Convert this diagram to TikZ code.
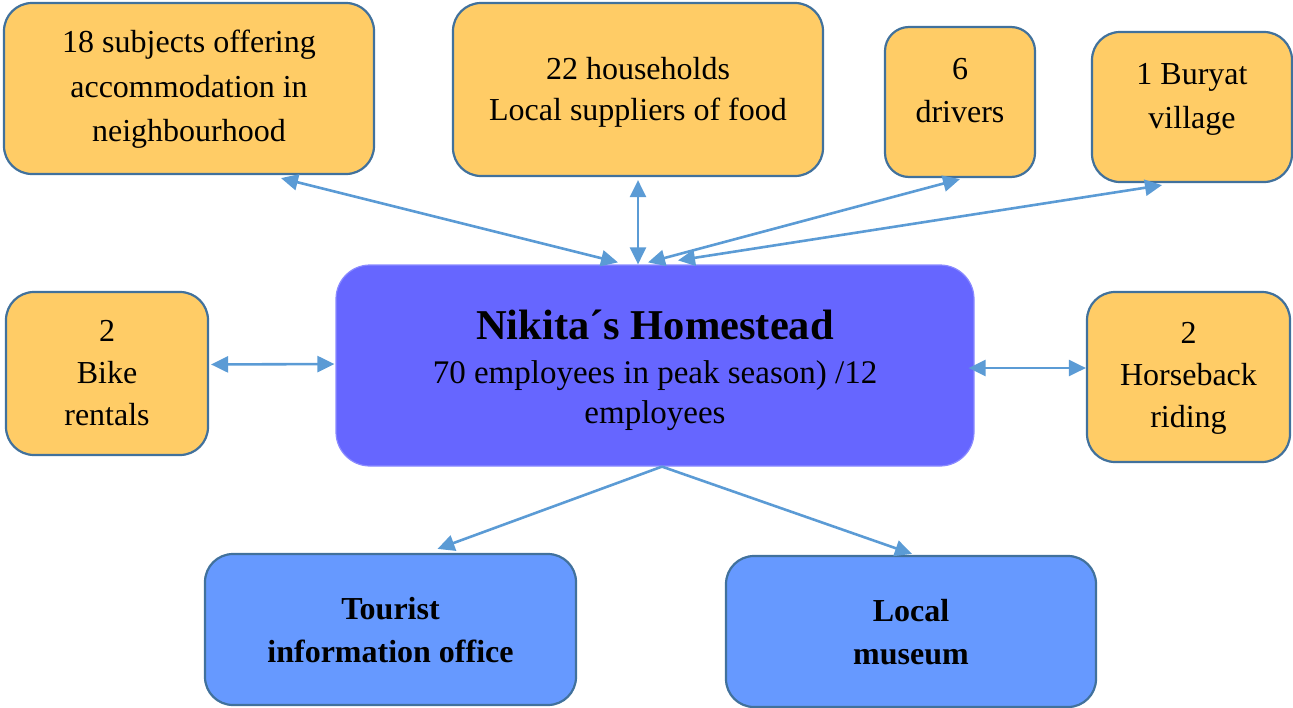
\documentclass[tikz,border=0pt]{standalone}
\usepackage{fontspec}
\setmainfont{Liberation Serif}
\usetikzlibrary{arrows.meta}
\definecolor{oFill}{HTML}{FFCC66}
\definecolor{bEdge}{HTML}{41719C}
\definecolor{cFill}{HTML}{6666FF}
\definecolor{cEdge}{HTML}{8A8AFF}
\definecolor{lFill}{HTML}{6699FF}
\definecolor{arr}{HTML}{5B9BD5}
\tikzset{
  x=1pt, y=1pt,
  obox/.style={draw=bEdge, fill=oFill, line width=2.2pt, rounded corners=28pt, inner sep=0pt},
  lbox/.style={draw=bEdge, fill=lFill, line width=2.2pt, rounded corners=28pt, inner sep=0pt},
  cbox/.style={draw=cEdge, fill=cFill, line width=1.2pt, rounded corners=34pt, inner sep=0pt},
  txt/.style={align=center, inner sep=0pt, font=\fontsize{32}{43}\selectfont},
  btxt/.style={align=center, inner sep=0pt, font=\fontsize{32}{43}\selectfont\bfseries},
  ctxt/.style={align=center, inner sep=0pt, font=\fontsize{33}{40}\selectfont},
  ttxt/.style={align=center, inner sep=0pt, font=\fontsize{42.5}{48}\selectfont\bfseries},
  link/.style={draw=arr, line width=2.6pt, {Triangle[length=17pt,width=16pt]}-{Triangle[length=17pt,width=16pt]}},
  olink/.style={draw=arr, line width=2.6pt, -{Triangle[length=17pt,width=16pt]}}
}
\begin{document}
\begin{tikzpicture}
\useasboundingbox (0,0) rectangle (1293,-707);
% boxes
\node[obox, minimum width=370pt, minimum height=171pt] (b1) at (189,-88.5) {};
\node[obox, minimum width=370pt, minimum height=173pt] (b2) at (638,-89.5) {};
\node[obox, minimum width=150pt, minimum height=150pt, rounded corners=24pt] (b3) at (960,-102) {};
\node[obox, minimum width=200pt, minimum height=150pt] (b4) at (1192,-107) {};
\node[obox, minimum width=202pt, minimum height=163pt] (b5) at (107,-373.5) {};
\node[obox, minimum width=203pt, minimum height=170pt] (b6) at (1188.5,-377) {};
\node[cbox, minimum width=638pt, minimum height=201pt] (c) at (655,-365.5) {};
\node[lbox, minimum width=371pt, minimum height=151pt] (b8) at (390.5,-629.5) {};
\node[lbox, minimum width=370pt, minimum height=151pt] (b9) at (911,-631.5) {};
% texts
\node[txt, font=\fontsize{32}{44.5}\selectfont] (t1) at (189,-89.5) {18 subjects offering\\accommodation in\\neighbourhood};
\node[txt, font=\fontsize{32}{41.5}\selectfont] (t2) at (638,-92.5) {22 households\\Local suppliers of food};
\node[txt] (t3) at (960,-90.5) {6\\drivers};
\node[txt, font=\fontsize{32}{44}\selectfont] (t4) at (1192,-99) {1 Buryat\\village};
\node[txt, font=\fontsize{32}{42}\selectfont] (t5) at (107,-373) {2\\Bike\\rentals};
\node[txt, font=\fontsize{32}{42}\selectfont] (t6) at (1188.5,-378.5) {2\\Horseback\\riding};
\node[ttxt] (tc1) at (655,-325) {Nikita´s Homestead};
\node[ctxt] (tc2) at (655,-396) {70 employees in peak season) /12\\employees};
\node[btxt] (t8) at (390.5,-630.5) {Tourist\\information office};
\node[btxt] (t9) at (911,-632.5) {Local\\museum};
% connectors
\draw[link] ([xshift=-37pt,yshift=2pt]c.north) -- ([xshift=92pt,yshift=-3pt]b1.south);
\draw[link] ([xshift=-17pt]c.north) -- ([yshift=-3pt]b2.south);
\draw[link] ([xshift=-7pt,yshift=2pt]c.north) -- ([yshift=-1pt]b3.south);
\draw[link] ([xshift=23pt,yshift=4pt]c.north) -- ([xshift=-30pt,yshift=-2pt]b4.south);
\draw[link] ([xshift=2pt,yshift=9pt]b5.east) -- ([xshift=-1pt,yshift=1.5pt]c.west);
\draw[link] ([xshift=-6pt,yshift=-2.5pt]c.east) -- ([yshift=9pt]b6.west);
\draw[olink] ([xshift=7pt]c.south) -- ([xshift=47pt,yshift=4pt]b8.north);
\draw[olink] ([xshift=7pt]c.south) -- ([xshift=1pt,yshift=1pt]b9.north);
\end{tikzpicture}
\end{document}
